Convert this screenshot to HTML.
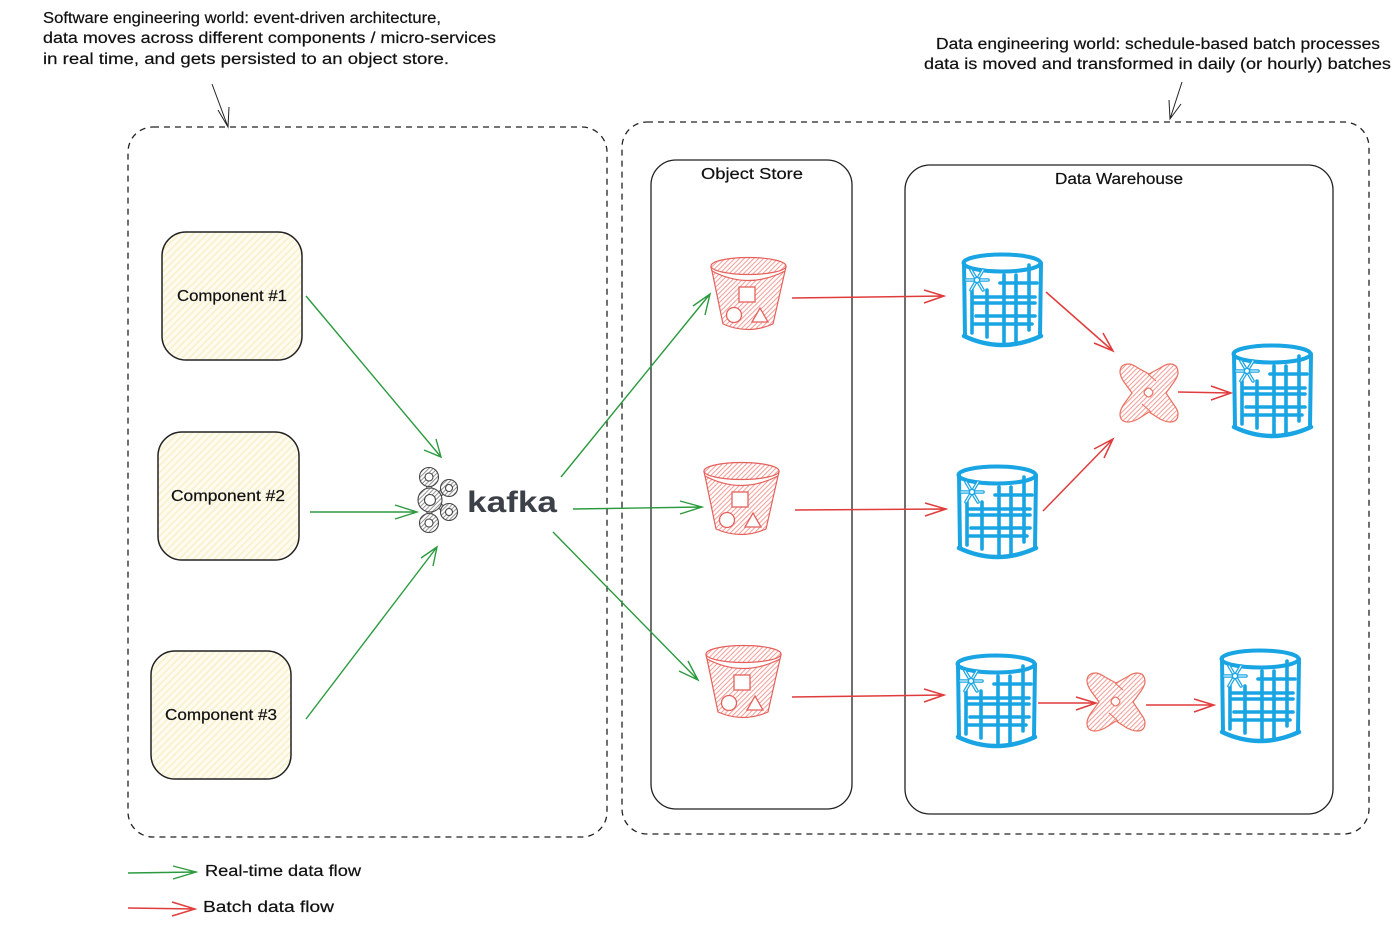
<!DOCTYPE html>
<html>
<head>
<meta charset="utf-8">
<style>
html,body{margin:0;padding:0;background:#fff;}
svg{display:block;}
text{font-family:"Liberation Sans",sans-serif;font-size:15.5px;fill:#111;stroke:#111;stroke-width:0.2px;}
</style>
</head>
<body>
<svg width="1400" height="926" viewBox="0 0 1400 926" xmlns="http://www.w3.org/2000/svg">
<defs>
  <pattern id="hY" width="5" height="5" patternUnits="userSpaceOnUse" patternTransform="rotate(-45)">
    <rect width="5" height="5" fill="#fefbf0"/>
    <line x1="0" y1="2" x2="5" y2="2" stroke="#f9f0cc" stroke-width="1.6"/>
  </pattern>
  <pattern id="hR" width="3.4" height="3.4" patternUnits="userSpaceOnUse" patternTransform="rotate(-45)">
    <rect width="3.4" height="3.4" fill="#fff"/>
    <line x1="0" y1="1.5" x2="3.4" y2="1.5" stroke="#f29c97" stroke-width="1"/>
  </pattern>
  <pattern id="hK" width="3" height="3" patternUnits="userSpaceOnUse" patternTransform="rotate(-45)">
    <rect width="3" height="3" fill="#fff"/>
    <line x1="0" y1="1.5" x2="3" y2="1.5" stroke="#777" stroke-width="0.8"/>
  </pattern>

  <g id="bucket">
    <path d="M2 14 L13 67 Q38 78 63 67 L75 14 Z" fill="url(#hR)" stroke="#e5605b" stroke-width="1.2"/>
    <path d="M1 10 L2 14 Q38 33 75 14 L76 10 Z" fill="#fff" stroke="#e5605b" stroke-width="1.2"/>
    <ellipse cx="38.5" cy="9" rx="37.5" ry="8.5" fill="url(#hR)" stroke="#e5605b" stroke-width="1.2"/>
    <rect x="29" y="30" width="16" height="15" fill="#fff" stroke="#e5605b" stroke-width="1.3"/>
    <circle cx="24" cy="58" r="7.5" fill="#fff" stroke="#e5605b" stroke-width="1.3"/>
    <path d="M42 65 L50 51 L58 65 Z" fill="#fff" stroke="#e5605b" stroke-width="1.3"/>
  </g>

  <g id="cyl" fill="none" stroke="#19a5e3" stroke-linecap="round">
    <ellipse cx="40" cy="11" rx="38.5" ry="8.5" fill="#fff" stroke-width="4"/>
    <path d="M2 11 L3 84 M79 11 L78 84" stroke-width="4"/>
    <path d="M2 84 Q40 102 79 84" stroke-width="4.5"/>
    <g stroke-width="3.6">
      <path d="M38 31 H75 M11 45 H73 M12 51 H73 M14 64 H73 M12 72 H70"/>
      <path d="M10 38 V81 M25 38 V85 M42 23 V90 M54 23 V90 M67 13 V78"/>
    </g>
    <g transform="translate(15 28)">
      <path d="M-11 0 H11 M-6 -10 L6 10 M6 -10 L-6 10" stroke-width="3.6"/>
      <path d="M-11 0 H11 M-6 -10 L6 10 M6 -10 L-6 10" stroke="#fff" stroke-width="1.1"/>
      <circle r="2.6" fill="#fff" stroke-width="1.4"/>
    </g>
  </g>

  <g id="dbt">
    <path d="M9 0 Q12 0 18 4 L29 10 L40 4 Q46 0 50 0 Q58 0 58 9 Q58 12 54 18 L46 29 L54 41 Q58 46 58 50 Q58 58 50 58 Q46 58 40 55 L29 48 L18 55 Q12 58 8 58 Q0 58 0 50 Q0 46 4 40 L12 29 L4 18 Q0 12 0 8 Q0 0 9 0 Z" fill="url(#hR)" stroke="#e8705f" stroke-width="1.2"/>
    <path d="M28 10 L36 17 M22 40 L31 48" stroke="#e8705f" stroke-width="1" fill="none"/>
    <rect x="24.5" y="24.5" width="8" height="8" rx="3" transform="rotate(45 28.5 28.5)" fill="#fff" stroke="#e8705f" stroke-width="1.2"/>
  </g>
</defs>

<!-- Text: annotations -->
<text x="43" y="23" textLength="398" lengthAdjust="spacingAndGlyphs">Software engineering world: event-driven architecture,</text>
<text x="43" y="43" textLength="453" lengthAdjust="spacingAndGlyphs">data moves across different components / micro-services</text>
<text x="43" y="64" textLength="406" lengthAdjust="spacingAndGlyphs">in real time, and gets persisted to an object store.</text>
<text x="936" y="49" textLength="444" lengthAdjust="spacingAndGlyphs">Data engineering world: schedule-based batch processes</text>
<text x="924" y="69" textLength="467" lengthAdjust="spacingAndGlyphs">data is moved and transformed in daily (or hourly) batches</text>

<!-- Annotation arrows -->
<g fill="none" stroke="#222" stroke-width="1">
  <path d="M212 84 L228 127 M218 110 L228 127 L229 107"/>
  <path d="M1182 82 L1170 119 M1169 100 L1170 119 L1181 104"/>
</g>

<!-- Containers -->
<g fill="none" stroke="#222" stroke-width="1.3">
  <rect x="128" y="127" width="479" height="710" rx="25" stroke-dasharray="6 5"/>
  <rect x="622" y="122" width="747" height="712" rx="25" stroke-dasharray="6 5"/>
  <rect x="651" y="160" width="201" height="649" rx="25"/>
  <rect x="905" y="165" width="428" height="649" rx="25"/>
</g>
<text x="701" y="179" textLength="102" lengthAdjust="spacingAndGlyphs">Object Store</text>
<text x="1055" y="184" textLength="128" lengthAdjust="spacingAndGlyphs">Data Warehouse</text>

<!-- Components -->
<g fill="url(#hY)" stroke="#222" stroke-width="1.5">
  <rect x="162" y="232" width="140" height="128" rx="24"/>
  <rect x="158" y="432" width="141" height="128" rx="24"/>
  <rect x="151" y="651" width="140" height="128" rx="24"/>
</g>
<text x="177" y="301" textLength="110" lengthAdjust="spacingAndGlyphs">Component #1</text>
<text x="171" y="501" textLength="114" lengthAdjust="spacingAndGlyphs">Component #2</text>
<text x="165" y="720" textLength="112" lengthAdjust="spacingAndGlyphs">Component #3</text>

<!-- Kafka -->
<path d="M429 482 L430 500 L449 488 M430 500 L449 512 M430 500 L429 522" fill="none" stroke="#444" stroke-width="6"/>
<path d="M429 482 L430 500 L449 488 M430 500 L449 512 M430 500 L429 522" fill="none" stroke="#ddd" stroke-width="4"/>
<g stroke="#444" stroke-width="1.1" fill="url(#hK)">
  <circle cx="429" cy="477" r="9.5"/><circle cx="429" cy="477" r="4" fill="#fff"/>
  <circle cx="449" cy="488" r="8.5"/><circle cx="449" cy="488" r="3.5" fill="#fff"/>
  <circle cx="430" cy="500" r="12"/><circle cx="430" cy="500" r="5.5" fill="#fff"/>
  <circle cx="449" cy="512" r="8.5"/><circle cx="449" cy="512" r="3.5" fill="#fff"/>
  <circle cx="429" cy="523" r="9.5"/><circle cx="429" cy="523" r="4" fill="#fff"/>
</g>
<text x="467" y="512" textLength="90" lengthAdjust="spacingAndGlyphs" style="font-size:30px;font-weight:bold;fill:#3c4149;stroke:none;">kafka</text>

<!-- Buckets -->
<use href="#bucket" x="710" y="257"/>
<use href="#bucket" x="703" y="462"/>
<use href="#bucket" x="705" y="645"/>

<!-- Cylinders -->
<use href="#cyl" x="962" y="252"/>
<use href="#cyl" x="957" y="464"/>
<use href="#cyl" x="956" y="653"/>
<use href="#cyl" x="1232" y="343"/>
<use href="#cyl" x="1220" y="648"/>

<!-- dbt -->
<use href="#dbt" x="1120" y="364"/>
<use href="#dbt" x="1087" y="673"/>

<!-- Green arrows -->
<g fill="none" stroke="#2b9a3e" stroke-width="1.4">
  <path d="M306 296 L441 457 M424 450 L441 457 L436 439"/>
  <path d="M310 512 L417 512 M395 505 L417 512 L395 519"/>
  <path d="M306 719 L437 547 M421 558 L437 547 L433 566"/>
  <path d="M561 477 L710 294 M693 306 L710 294 L705 315"/>
  <path d="M573 509 L702 507 M680 501 L702 507 L680 514"/>
  <path d="M553 532 L698 680 M688 661 L698 680 L679 671"/>
  <path d="M128 873 L196 872 M173 866 L196 872 L173 879"/>
</g>

<!-- Red arrows -->
<g fill="none" stroke="#e03c3c" stroke-width="1.5">
  <path d="M792 298 L944 296 M924 290 L944 296 L924 303"/>
  <path d="M795 510 L946 509 M925 503 L946 509 L925 516"/>
  <path d="M792 697 L944 695 M924 689 L944 695 L924 702"/>
  <path d="M1046 292 L1113 351 M1103 333 L1113 351 L1094 343"/>
  <path d="M1043 511 L1113 439 M1094 449 L1113 439 L1104 458"/>
  <path d="M1178 392 L1231 393 M1211 386 L1231 393 L1211 400"/>
  <path d="M1038 703 L1096 703 M1076 697 L1096 703 L1076 710"/>
  <path d="M1146 705 L1214 705 M1194 699 L1214 705 L1194 712"/>
  <path d="M128 908 L195 909 M172 902 L195 909 L172 916"/>
</g>

<!-- Legend -->
<text x="205" y="876" textLength="156" lengthAdjust="spacingAndGlyphs">Real-time data flow</text>
<text x="203" y="912" textLength="131" lengthAdjust="spacingAndGlyphs">Batch data flow</text>
</svg>
</body>
</html>
